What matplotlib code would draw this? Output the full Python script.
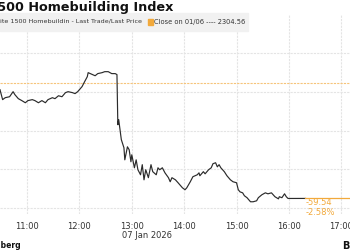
import pandas as pd
import matplotlib
matplotlib.use("Agg")
import matplotlib.pyplot as plt
import matplotlib.dates as mdates
from matplotlib.patches import Rectangle

# intraday trace
times = ["10:29", "10:32", "10:35", "10:40", "10:44", "10:46", "10:50", "10:54", "10:58",
         "11:01", "11:06", "11:09", "11:13", "11:17", "11:21", "11:24", "11:29", "11:32",
         "11:36", "11:40", "11:44", "11:47", "11:52", "11:55", "11:58", "12:03", "12:06",
         "12:09", "12:10", "12:15", "12:18", "12:21", "12:26", "12:29", "12:33", "12:37",
         "12:41", "12:43", "12:44", "12:45", "12:48", "12:51", "12:52", "12:55", "12:57",
         "12:59", "13:00", "13:03", "13:05", "13:07", "13:10", "13:12", "13:14", "13:16",
         "13:19", "13:22", "13:24", "13:28", "13:30", "13:32", "13:35", "13:38", "13:42",
         "13:44", "13:46", "13:50", "13:53", "13:58", "14:01", "14:03", "14:07", "14:10",
         "14:15", "14:17", "14:18", "14:22", "14:24", "14:28", "14:31", "14:33", "14:36",
         "14:38", "14:40", "14:42", "14:46", "14:49", "14:53", "14:56", "15:00", "15:02",
         "15:04", "15:07", "15:09", "15:12", "15:16", "15:19", "15:23", "15:25", "15:29",
         "15:33", "15:36", "15:40", "15:42", "15:44", "15:48", "15:49", "15:52", "15:55",
         "15:57", "15:59", "16:19"]
prices = [2301.0, 2295.9, 2296.9, 2297.4, 2300.0, 2298.5, 2296.4, 2295.4, 2294.3,
          2295.4, 2295.9, 2295.4, 2294.3, 2295.4, 2294.3, 2295.9, 2296.9, 2296.4,
          2297.9, 2297.4, 2299.5, 2300.0, 2299.5, 2299.0, 2300.0, 2302.6, 2305.2,
          2307.7, 2309.8, 2308.8, 2308.2, 2309.3, 2309.8, 2310.3, 2310.3, 2309.3,
          2309.3, 2308.8, 2283.0, 2285.6, 2275.3, 2271.1, 2264.9, 2271.6, 2270.1,
          2263.9, 2267.5, 2260.8, 2264.9, 2259.8, 2257.2, 2262.4, 2254.6, 2259.8,
          2255.7, 2262.4, 2258.8, 2257.2, 2260.8, 2259.8, 2260.8, 2258.2, 2255.7,
          2253.6, 2255.7, 2254.6, 2253.1, 2250.5, 2249.5, 2250.5, 2253.6, 2256.2,
          2257.2, 2258.2, 2256.7, 2258.8, 2257.7, 2259.8, 2260.8, 2262.9, 2263.4,
          2261.3, 2262.4, 2260.8, 2258.8, 2256.7, 2254.6, 2253.6, 2253.1, 2249.5,
          2248.4, 2247.9, 2246.4, 2245.4, 2243.3, 2243.3, 2243.8, 2245.4, 2246.9,
          2247.9, 2247.4, 2247.9, 2246.9, 2245.9, 2244.8, 2245.9, 2245.4, 2247.4,
          2245.9, 2245.0, 2245.02]

prev_close = 2304.56
last_price = 2245.02
net_change = "-59.54"
pct_change = "-2.58%"
y_ticks = [2240, 2260, 2280, 2300, 2320]
hour_ticks = ["11:00", "12:00", "13:00", "14:00", "15:00", "16:00", "17:00"]

day = "2026-01-07 "
x = pd.to_datetime([day + t for t in times])
x_left = pd.Timestamp(day + "10:29")
x_right = pd.Timestamp(day + "17:10")

ORANGE = "#f2a93b"
GRID = "#e4e4e4"
TXT = "#333333"

W, H = 350, 250
fig = plt.figure(figsize=(3.5, 2.5), dpi=100)
ax = fig.add_axes([0, 36 / H, 1, 200 / H])

ax.plot(x, prices, color="#2b2b2b", lw=0.85, zorder=3)
ax.axhline(prev_close, color="#f6c47a", lw=0.8, ls=(0, (2, 1)), zorder=2)
ax.plot([x[-1], x_right], [last_price, last_price], color=ORANGE, lw=0.9, zorder=3)

ax.set_xlim(x_left, x_right)
ax.set_ylim(2237, 2340)
ax.set_yticks(y_ticks)
ax.set_xticks(pd.to_datetime([day + h for h in hour_ticks]))
ax.xaxis.set_major_formatter(mdates.DateFormatter("%H:%M"))
ax.grid(True, color=GRID, lw=0.8, ls=(0, (2, 1)))
for s in ax.spines.values():
    s.set_visible(False)
ax.tick_params(axis="x", length=0, pad=6, labelsize=6, labelcolor=TXT)
ax.tick_params(axis="y", length=0, labelleft=False)

ax.annotate("07 Jan 2026", xy=(pd.Timestamp(day + "13:00"), 0),
            xycoords=("data", "axes fraction"), xytext=(-10, -22),
            textcoords="offset pixels", ha="left", va="center",
            fontsize=6, color=TXT)

ax.annotate(net_change, xy=(1, last_price), xycoords=("axes fraction", "data"),
            xytext=(-44, -4), textcoords="offset pixels", ha="left", va="center",
            fontsize=6, color=ORANGE)
ax.annotate(pct_change, xy=(1, last_price), xycoords=("axes fraction", "data"),
            xytext=(-44, -14), textcoords="offset pixels", ha="left", va="center",
            fontsize=6, color=ORANGE)

# title, cut on the left like the reference
fig.text(173 / W, 1 - 10.5 / H, "S&P Composite 1500 Homebuilding Index",
         ha="right", va="baseline", fontsize=9.2, fontweight="bold", color="#111111")

# legend strip
fig.patches.append(Rectangle((0, 1 - 31 / H), 248 / W, 18 / H,
                             transform=fig.transFigure, color="#f1f1f1", zorder=0))
fig.text(142 / W, 1 - 22 / H, "S&P Composite 1500 Homebuildin - Last Trade/Last Price",
         ha="right", va="center", fontsize=4.6, color=TXT)
fig.patches.append(Rectangle((148 / W, 1 - 24.5 / H), 5 / W, 5 / H,
                             transform=fig.transFigure, color=ORANGE, zorder=1))
fig.text(154.5 / W, 1 - 22 / H, "Close on 01/06 ---- 2304.56",
         ha="left", va="center", fontsize=4.8, color=TXT)

# footer
fig.text(21 / W, 1 - 246 / H, "Source: Bloomberg", ha="right", va="center",
         fontsize=5.5, fontweight="bold", color="#111111")
fig.text(342 / W, 1 - 246 / H, "Bloomberg", ha="left", va="center",
         fontsize=7, fontweight="bold", color="#111111")

fig.savefig("out.png", dpi=100)
